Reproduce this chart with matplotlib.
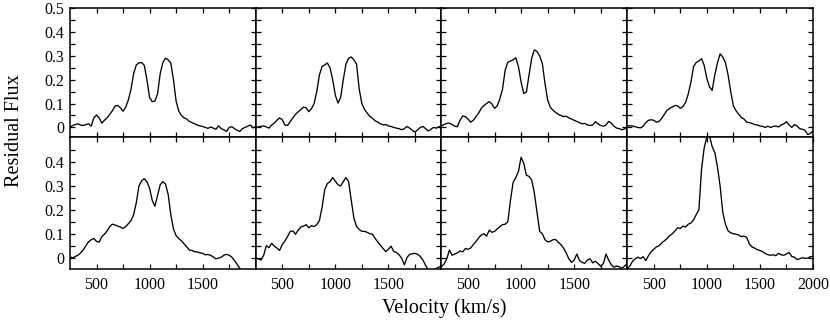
import matplotlib
matplotlib.use("Agg")
import matplotlib.pyplot as plt
import numpy as np

plt.rcParams['font.family'] = ['Liberation Serif', 'DejaVu Serif']

# velocity grid (km/s)
vel = np.arange(250, 2001, 25)

# residual flux, one list per panel (top row then bottom row)
flux_1 = [0.0, 0.008, 0.012, 0.015, 0.01, 0.008, 0.012, 0.015, 0.005, 0.04, 0.052, 0.04, 0.018, 0.03, 0.04, 0.055,
          0.07, 0.09, 0.092, 0.082, 0.068, 0.085, 0.115, 0.16, 0.225, 0.262, 0.27, 0.272, 0.26, 0.2, 0.125, 0.108,
          0.11, 0.14, 0.225, 0.272, 0.29, 0.283, 0.27, 0.2, 0.11, 0.068, 0.05, 0.04, 0.035, 0.025, 0.02, 0.015,
          0.01, 0.006, 0.004, 0.0, -0.004, 0.002, -0.003, -0.008, 0.007, -0.005, -0.01, -0.017, 0.0, 0.003,
          -0.005, -0.012, -0.017, -0.005, 0.0, 0.005, 0.01, -0.002, 0.004]
flux_2 = [0.0, 0.002, 0.005, 0.006, 0.002, -0.003, 0.01, 0.018, 0.03, 0.04, 0.032, 0.01, 0.008, 0.025, 0.04, 0.055,
          0.065, 0.075, 0.085, 0.082, 0.066, 0.078, 0.1, 0.15, 0.22, 0.255, 0.262, 0.27, 0.25, 0.2, 0.135, 0.102,
          0.125, 0.2, 0.265, 0.29, 0.295, 0.283, 0.265, 0.16, 0.1, 0.075, 0.06, 0.046, 0.038, 0.028, 0.022, 0.015,
          0.011, 0.012, 0.006, 0.004, 0.0, -0.003, -0.005, -0.01, -0.005, 0.004, -0.003, -0.012, -0.02, -0.01,
          0.0, 0.004, -0.005, -0.015, -0.008, 0.0, -0.003, 0.002, 0.006]
flux_3 = [0.006, 0.012, 0.017, 0.018, 0.012, 0.005, 0.003, 0.03, 0.048, 0.045, 0.035, 0.022, 0.03, 0.045, 0.06,
          0.08, 0.092, 0.1, 0.108, 0.098, 0.08, 0.09, 0.12, 0.16, 0.24, 0.273, 0.278, 0.283, 0.292, 0.255, 0.19,
          0.142, 0.148, 0.22, 0.29, 0.325, 0.318, 0.3, 0.268, 0.185, 0.115, 0.085, 0.072, 0.063, 0.055, 0.05,
          0.045, 0.047, 0.04, 0.035, 0.03, 0.025, 0.02, 0.015, 0.017, 0.01, 0.008, 0.01, 0.024, 0.015, 0.008,
          0.005, 0.01, 0.025, 0.018, 0.005, -0.003, -0.005, -0.01, -0.006, -0.002]
flux_4 = [0.005, 0.007, 0.006, 0.003, 0.0, -0.002, 0.005, 0.02, 0.03, 0.032, 0.03, 0.022, 0.025, 0.038, 0.055,
          0.072, 0.08, 0.086, 0.092, 0.09, 0.08, 0.088, 0.105, 0.14, 0.19, 0.255, 0.272, 0.278, 0.288, 0.26, 0.205,
          0.17, 0.155, 0.22, 0.27, 0.308, 0.295, 0.272, 0.22, 0.15, 0.09, 0.07, 0.055, 0.042, 0.035, 0.022, 0.02,
          0.017, 0.012, 0.01, 0.006, 0.004, 0.0, 0.005, 0.0, 0.004, 0.006, 0.002, 0.01, 0.015, 0.024, 0.01, 0.0,
          0.012, 0.006, -0.005, -0.008, -0.012, -0.03, -0.025, -0.015]
flux_5 = [0.004, -0.002, 0.005, 0.01, 0.02, 0.032, 0.05, 0.066, 0.075, 0.08, 0.068, 0.065, 0.088, 0.098, 0.112,
          0.13, 0.14, 0.137, 0.132, 0.128, 0.122, 0.13, 0.142, 0.155, 0.18, 0.23, 0.3, 0.322, 0.33, 0.318, 0.29,
          0.24, 0.215, 0.26, 0.305, 0.318, 0.308, 0.265, 0.18, 0.12, 0.092, 0.08, 0.07, 0.058, 0.045, 0.032, 0.03,
          0.025, 0.024, 0.02, 0.018, 0.012, 0.013, 0.01, 0.003, -0.005, -0.002, 0.002, 0.01, 0.014, 0.01, 0.002,
          -0.012, -0.028, -0.045, -0.06, -0.07, -0.08, -0.08, -0.08, -0.08]
flux_6 = [-0.002, -0.005, -0.01, 0.01, 0.05, 0.042, 0.06, 0.048, 0.04, 0.03, 0.055, 0.07, 0.088, 0.11, 0.112,
          0.098, 0.115, 0.128, 0.132, 0.138, 0.125, 0.134, 0.13, 0.138, 0.155, 0.21, 0.285, 0.31, 0.318, 0.335,
          0.32, 0.305, 0.3, 0.318, 0.335, 0.318, 0.24, 0.165, 0.13, 0.118, 0.11, 0.11, 0.106, 0.1, 0.098, 0.08,
          0.066, 0.052, 0.038, 0.025, 0.035, 0.048, 0.026, 0.022, 0.012, -0.002, -0.03, 0.0, 0.014, 0.016, 0.018,
          0.014, 0.005, -0.01, -0.032, -0.05, -0.06, -0.055, -0.045, -0.04, -0.035]
flux_7 = [-0.038, -0.026, -0.005, 0.032, 0.01, 0.015, 0.02, 0.028, 0.024, 0.038, 0.035, 0.04, 0.055, 0.068, 0.082,
          0.095, 0.1, 0.09, 0.115, 0.106, 0.11, 0.12, 0.13, 0.138, 0.14, 0.15, 0.24, 0.315, 0.335, 0.36, 0.42,
          0.395, 0.345, 0.34, 0.325, 0.27, 0.19, 0.11, 0.1, 0.075, 0.066, 0.068, 0.075, 0.076, 0.064, 0.055, 0.04,
          0.02, -0.005, -0.02, -0.01, 0.015, -0.012, -0.02, -0.024, -0.01, -0.005, -0.022, -0.015, -0.025, -0.036,
          -0.025, 0.015, -0.01, -0.03, -0.04, -0.035, -0.038, -0.045, -0.035, -0.025]
flux_8 = [-0.045, -0.035, -0.015, -0.005, 0.002, -0.004, 0.004, -0.012, 0.008, 0.025, 0.035, 0.045, 0.05, 0.062,
          0.07, 0.08, 0.092, 0.1, 0.112, 0.125, 0.122, 0.132, 0.128, 0.14, 0.145, 0.158, 0.18, 0.2, 0.37, 0.46,
          0.505, 0.51, 0.465, 0.44, 0.38, 0.3, 0.19, 0.14, 0.112, 0.104, 0.1, 0.098, 0.095, 0.088, 0.09, 0.085,
          0.058, 0.045, 0.04, 0.033, 0.03, 0.025, 0.018, 0.012, 0.01, 0.012, 0.008, 0.018, 0.012, 0.01, 0.015,
          0.022, 0.005, 0.002, -0.008, -0.005, 0.0, -0.003, -0.002, 0.004, 0.005]

panels = [flux_1, flux_2, flux_3, flux_4, flux_5, flux_6, flux_7, flux_8]

fig = plt.figure(figsize=(8.3, 3.22), dpi=100)
gs = fig.add_gridspec(2, 4, left=0.0843, right=0.9795, top=0.975, bottom=0.165,
                      wspace=0, hspace=0, height_ratios=[129, 132])

for i, fl in enumerate(panels):
    row, col = divmod(i, 4)
    ax = fig.add_subplot(gs[row, col])
    ax.plot(vel, fl, color="black", lw=0.95)
    ax.set_xlim(250, 2000)
    if row == 0:
        ax.set_ylim(-0.04, 0.5)
        ax.set_yticks([0, 0.1, 0.2, 0.3, 0.4, 0.5])
        ax.set_yticklabels(["0", "0.1", "0.2", "0.3", "0.4", "0.5"])
        ax.set_xticks([500, 1000, 1500])
        ax.set_xticklabels([])
    else:
        ax.set_ylim(-0.047, 0.505)
        ax.set_yticks([0, 0.1, 0.2, 0.3, 0.4])
        ax.set_yticklabels(["0", "0.1", "0.2", "0.3", "0.4"])
        if col == 3:
            ax.set_xticks([500, 1000, 1500, 2000])
            ax.set_xticklabels(["500", "1000", "1500", "2000"])
        else:
            ax.set_xticks([500, 1000, 1500])
            ax.set_xticklabels(["500", "1000", "1500"])
    ax.set_xticks([750, 1250, 1750], minor=True)
    ax.set_yticks(np.arange(0.05, 0.5, 0.1), minor=True)
    if col != 0:
        ax.set_yticklabels([])
    ax.tick_params(which="both", direction="in", top=True, right=True,
                   length=3.5, width=0.9, labelsize=11.5)
    ax.tick_params(axis="x", pad=6)
    ax.tick_params(axis="y", pad=4)
    for s in ax.spines.values():
        s.set_linewidth(1.1)

fig.text(0.535, 0.043, "Velocity (km/s)", ha="center", va="center", fontsize=14.5)
fig.text(0.018, 0.593, "Residual Flux", ha="center", va="center", rotation=90, fontsize=14.5)

fig.savefig("out.png", dpi=100)
